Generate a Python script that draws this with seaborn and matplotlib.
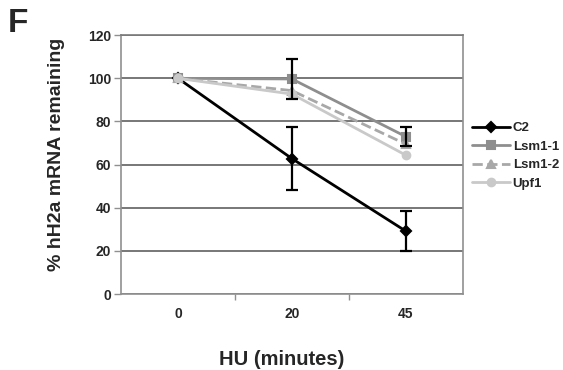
import matplotlib
matplotlib.use("Agg")
import matplotlib.pyplot as plt
import seaborn as sns
import pandas as pd
from matplotlib.ticker import FixedLocator

sns.set_theme(style="white")
plt.rcParams['font.family'] = ['Liberation Sans', 'DejaVu Sans']

times = ["0", "20", "45"]
series = ["C2", "Lsm1-1", "Lsm1-2", "Upf1"]
c2 = [100, 62.8, 29.2]
lsm1_1 = [100, 99.7, 73.0]
lsm1_2 = [100, 94.3, 69.5]
upf1 = [100, 92.7, 64.4]
c2_err = [0, 14.6, 9.4]
lsm1_1_err = [0, 9.1, 4.5]

colors = {"C2": "#000000", "Lsm1-1": "#8e8e8e", "Lsm1-2": "#a8a8a8", "Upf1": "#c9c9c9"}
markers = ["D", "s", "^", "o"]
linestyles = ["-", "-", "--", "-"]

rows = []
for name, vals in zip(series, [c2, lsm1_1, lsm1_2, upf1]):
    for t, v in zip(times, vals):
        rows.append({"time": t, "value": v, "series": name})
df = pd.DataFrame(rows)

fig = plt.figure(figsize=(5.63, 3.70), dpi=100)
ax = fig.add_axes([0.215, 0.205, 0.607, 0.70])

ax.yaxis.grid(True, color="#606060", linewidth=1.2)
ax.set_axisbelow(True)

sns.pointplot(data=df, x="time", y="value", hue="series", order=times,
              hue_order=series, palette=colors, markers=markers,
              linestyles=linestyles, errorbar=None, markersize=5.5,
              linewidth=2.0, ax=ax)

for line in ax.lines:
    if line.get_color() in ("#000000", (0.0, 0.0, 0.0, 1.0), "k"):
        line.set_zorder(1.5)

xs = list(range(len(times)))
for vals, errs in [(c2, c2_err), (lsm1_1, lsm1_1_err)]:
    for xi, v, e in zip(xs, vals, errs):
        if e > 0:
            ax.errorbar(xi, v, yerr=e, color="black", capsize=4, capthick=1.6,
                        elinewidth=1.6, zorder=5)

ax.set_xlim(-0.5, 2.5)
ax.set_ylim(0, 120)
ax.set_yticks([0, 20, 40, 60, 80, 100, 120])
ax.xaxis.set_minor_locator(FixedLocator([0.5, 1.5]))
ax.tick_params(axis="x", which="major", length=0, pad=9)
ax.tick_params(axis="x", which="minor", length=4, color="#909090", width=1, direction="out", bottom=True)
ax.tick_params(axis="y", which="major", length=5, color="#909090", width=1, direction="out", left=True, pad=2)
for lbl in ax.get_xticklabels() + ax.get_yticklabels():
    lbl.set_fontweight("bold")
    lbl.set_fontsize(10)
for s in ["left", "bottom", "right", "top"]:
    ax.spines[s].set_visible(True)
    ax.spines[s].set_color("#909090")
    ax.spines[s].set_linewidth(1.2)
ax.spines["top"].set_color("#7a7a7a")

ax.set_xlabel("HU (minutes)", fontsize=14.5, fontweight="bold")
ax.xaxis.set_label_coords(0.47, -0.215)
ax.set_ylabel("% hH2a mRNA remaining", fontsize=14, fontweight="bold")
ax.yaxis.set_label_coords(-0.165, 0.54)

leg = ax.get_legend()
handles = leg.legend_handles
labels = [t.get_text() for t in leg.get_texts()]
leg.remove()
leg = fig.legend(handles, labels, loc="upper left", bbox_to_anchor=(0.838, 0.670),
                 frameon=False, fontsize=9.5, handlelength=2.9, handletextpad=0.2,
                 labelspacing=0.48, borderaxespad=0, borderpad=0)
for t in leg.get_texts():
    t.set_fontweight("bold")

fig.text(0.014, 0.978, "F", fontsize=24, fontweight="bold", va="top", ha="left")

fig.savefig("out.png", dpi=100)
